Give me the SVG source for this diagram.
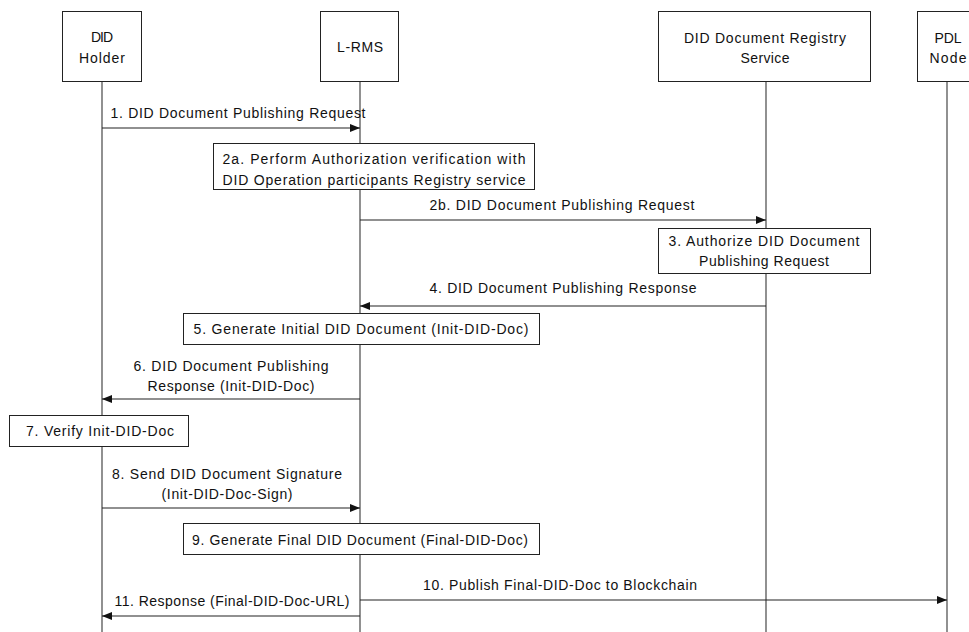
<svg xmlns="http://www.w3.org/2000/svg" width="969" height="632" viewBox="0 0 969 632">
<style>
  .box { fill: #ffffff; stroke: #222222; stroke-width: 1; }
  .life { stroke: #555555; stroke-width: 1.3; fill: none; }
  .msg { stroke: #222222; stroke-width: 1.2; fill: none; marker-end: url(#arrow); }
  .line { stroke: #222222; stroke-width: 1.2; fill: none; }
  text { font-family: "Liberation Sans", Arial, sans-serif; font-size: 14px; fill: #111111; text-anchor: middle; }
</style>
<defs>
  <marker id="arrow" viewBox="0 0 10 8" refX="10" refY="4" markerWidth="10" markerHeight="8" markerUnits="userSpaceOnUse" orient="auto">
    <path d="M0,0 L10,4 L0,8 Z" fill="#111111"/>
  </marker>
</defs>
<rect width="969" height="632" fill="#ffffff"/>

<g id="lifelines">
  <line class="life" x1="102" y1="81" x2="102" y2="632"/>
  <line class="life" x1="360" y1="81" x2="360" y2="632"/>
  <line class="life" x1="766" y1="81" x2="766" y2="632"/>
  <line class="life" x1="947" y1="81" x2="947" y2="632"/>
</g>

<g id="did-holder">
  <rect class="box" x="62.5" y="11.5" width="79" height="70"/>
  <text x="102" y="42" textLength="22">DID</text>
  <text x="102" y="63" textLength="46">Holder</text>
</g>
<g id="l-rms">
  <rect class="box" x="320.5" y="11.5" width="78" height="70"/>
  <text x="360" y="52" textLength="46">L-RMS</text>
</g>
<g id="did-registry">
  <rect class="box" x="658.5" y="11.5" width="212" height="70"/>
  <text x="765" y="43" textLength="162">DID Document Registry</text>
  <text x="765" y="63" textLength="49">Service</text>
</g>
<g id="pdl-node">
  <rect class="box" x="917.5" y="11.5" width="62" height="70"/>
  <text x="948" y="43" textLength="27">PDL</text>
  <text x="948" y="63" textLength="37">Node</text>
</g>

<g id="step2a">
  <rect class="box" x="213.5" y="143.5" width="321" height="46"/>
  <text x="374" y="164" textLength="303">2a. Perform Authorization verification with</text>
  <text x="374" y="185" textLength="303">DID Operation participants Registry service</text>
</g>
<g id="step3">
  <rect class="box" x="658.5" y="228.5" width="212" height="45"/>
  <text x="764" y="246" textLength="191">3. Authorize DID Document</text>
  <text x="764" y="266" textLength="130">Publishing Request</text>
</g>
<g id="step5">
  <rect class="box" x="183.5" y="313.5" width="356" height="31"/>
  <text x="361" y="334" textLength="335">5. Generate Initial DID Document (Init-DID-Doc)</text>
</g>
<g id="step7">
  <rect class="box" x="9.5" y="415.5" width="179" height="31"/>
  <text x="100" y="436" textLength="148">7. Verify Init-DID-Doc</text>
</g>
<g id="step9">
  <rect class="box" x="183.5" y="523.5" width="356" height="31"/>
  <text x="360" y="545" textLength="336">9. Generate Final DID Document (Final-DID-Doc)</text>
</g>

<g id="connectors">
  <line class="msg" x1="102" y1="128" x2="360" y2="128"/>
  <text x="238" y="118" textLength="255">1. DID Document Publishing Request</text>

  <line class="msg" x1="360" y1="220" x2="766" y2="220"/>
  <text x="562" y="210" textLength="265">2b. DID Document Publishing Request</text>

  <line class="msg" x1="766" y1="306" x2="360" y2="306"/>
  <text x="563" y="293" textLength="267">4. DID Document Publishing Response</text>

  <line class="msg" x1="360" y1="399" x2="102" y2="399"/>
  <text x="231" y="371" textLength="195">6. DID Document Publishing</text>
  <text x="231" y="391" textLength="167">Response (Init-DID-Doc)</text>

  <line class="msg" x1="102" y1="508" x2="360" y2="508"/>
  <text x="227" y="479" textLength="230">8. Send DID Document Signature</text>
  <text x="227" y="499" textLength="131">(Init-DID-Doc-Sign)</text>

  <line class="msg" x1="360" y1="600" x2="947" y2="600"/>
  <text x="560" y="590" textLength="274">10. Publish Final-DID-Doc to Blockchain</text>

  <line class="msg" x1="360" y1="616" x2="102" y2="616"/>
  <text x="232" y="606" textLength="235">11. Response (Final-DID-Doc-URL)</text>
</g>
</svg>
